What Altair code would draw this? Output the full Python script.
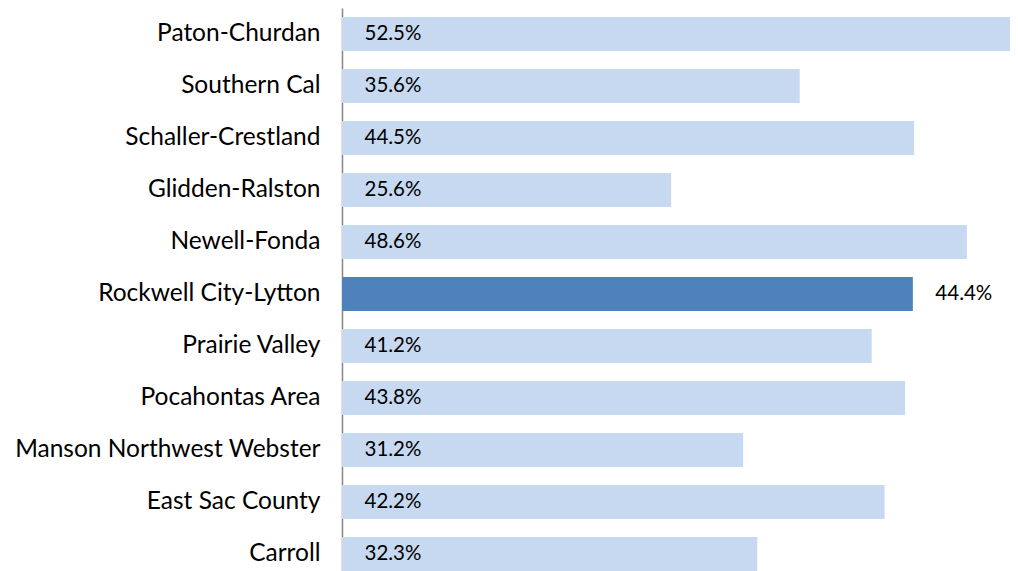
import altair as alt
import pandas as pd

districts = [
    "Paton-Churdan", "Southern Cal", "Schaller-Crestland", "Glidden-Ralston",
    "Newell-Fonda", "Rockwell City-Lytton", "Prairie Valley", "Pocahontas Area",
    "Manson Northwest Webster", "East Sac County", "Carroll",
]
values = [52.5, 35.6, 44.5, 25.6, 48.6, 44.4, 41.2, 43.8, 31.2, 42.2, 32.3]
highlight = [False, False, False, False, False, True, False, False, False, False, False]

df = pd.DataFrame({"district": districts, "value": values, "hl": highlight})
df["label"] = df["value"].map(lambda v: f"{v:.1f}%")

FONT = "Lato"

y = alt.Y(
    "district:N",
    sort=districts,
    title=None,
    scale=alt.Scale(paddingInner=0.35, paddingOuter=0.175),
    axis=alt.Axis(
        ticks=False,
        domainColor="#868686",
        domainWidth=1.5,
        labelPadding=22,
        labelFontSize=24.5,
        labelFont=FONT,
        labelColor="#000000",
        labelLimit=400,
    ),
)

x_scale = alt.Scale(domain=[0, 52.5], nice=False, zero=True)

bars = alt.Chart(df).mark_bar().encode(
    x=alt.X("value:Q", scale=x_scale, axis=None),
    y=y,
    color=alt.Color(
        "hl:N",
        scale=alt.Scale(domain=[False, True], range=["#C6D9F1", "#4F81BD"]),
        legend=None,
    ),
)

texts = alt.Chart(df).transform_calculate(
    pos="datum.hl ? datum.value : 0"
).mark_text(align="left", baseline="middle", dx=22.5, fontSize=20.5, font=FONT, color="#000000").encode(
    x=alt.X("pos:Q", scale=x_scale, axis=None),
    y=alt.Y("district:N", sort=districts),
    text="label:N",
)

chart = (bars + texts).properties(
    width=675,
    height=572,
    autosize=alt.AutoSizeParams(type="none"),
    padding={"left": 334, "top": 0, "right": -7, "bottom": -9},
).configure_view(stroke=None)

chart.save("out.html", embed_options={"renderer": "svg", "actions": False})
